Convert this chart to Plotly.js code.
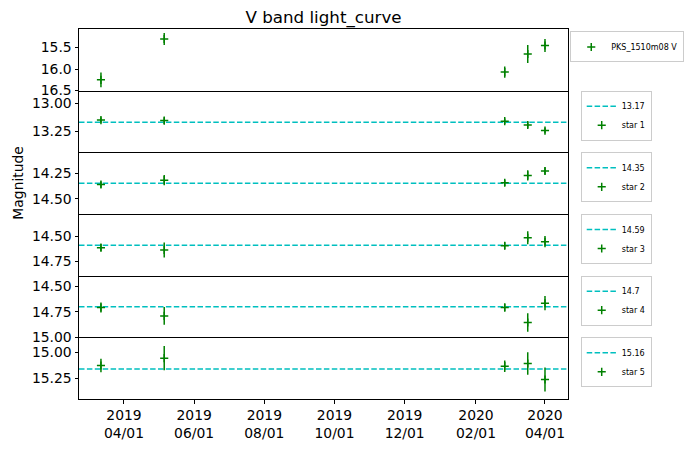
<!DOCTYPE html>
<html>
<head>
<meta charset="utf-8">
<script src="https://cdn.plot.ly/plotly-3.0.1.min.js"></script>
<style>html,body{margin:0;padding:0;background:#fff;}#chart{width:687px;height:449px;}</style>
</head>
<body>
<div id="chart"></div>
<script>
// ---- data ----
const dates = ['2019-03-12', '2019-05-06', '2020-02-26', '2020-03-17', '2020-04-01'];

const pksName = 'PKS_1510m08 V';
const pksMag = [16.25, 15.30, 16.07, 15.65, 15.45];
const pksErr = [0.17, 0.14, 0.13, 0.21, 0.15];

const starNames = ['star 1', 'star 2', 'star 3', 'star 4', 'star 5'];
const refMags = [13.17, 14.35, 14.59, 14.7, 15.16];

const star1Mag = [13.150, 13.155, 13.160, 13.195, 13.245];
const star1Err = [0.025, 0.030, 0.025, 0.030, 0.025];
const star2Mag = [14.362, 14.319, 14.345, 14.273, 14.230];
const star2Err = [0.030, 0.050, 0.030, 0.050, 0.035];
const star3Mag = [14.615, 14.638, 14.596, 14.517, 14.556];
const star3Err = [0.035, 0.075, 0.035, 0.065, 0.055];
const star4Mag = [14.707, 14.790, 14.707, 14.855, 14.665];
const star4Err = [0.050, 0.087, 0.040, 0.090, 0.070];
const star5Mag = [15.125, 15.055, 15.132, 15.106, 15.260];
const star5Err = [0.064, 0.117, 0.055, 0.107, 0.115];

const starMags = [star1Mag, star2Mag, star3Mag, star4Mag, star5Mag];
const starErrs = [star1Err, star2Err, star3Err, star4Err, star5Err];

// ---- styling ----
const FONT = 'DejaVu Sans, Liberation Sans, sans-serif';
const GREEN = '#008000';
const CYAN = '#00bfbf';
const nPanels = 6;
const yRanges = [
  [16.502, 15.067],
  [13.442, 12.884],
  [14.648, 14.049],
  [14.891, 14.283],
  [15.001, 14.394],
  [15.446, 14.856]
];
const xRange = ['2019-02-20 22:00', '2020-04-21'];

function domainOf(i) { return [1 - (i + 1) / nPanels, 1 - i / nPanels]; }
function sfx(i) { return i === 0 ? '' : String(i + 1); }

function errTrace(i, name, mags, errs) {
  return {
    type: 'scatter', mode: 'markers', name: name,
    x: dates, y: mags,
    xaxis: 'x' + sfx(i), yaxis: 'y' + sfx(i),
    legend: 'legend' + sfx(i), legendrank: 2,
    marker: { symbol: 'cross-thin', size: 5.8, color: GREEN, line: { color: GREEN, width: 1.5 } },
    error_y: { type: 'data', array: errs, visible: true, color: GREEN, thickness: 1.5, width: 0 },
    hoverinfo: 'x+y'
  };
}

const traces = [errTrace(0, pksName, pksMag, pksErr)];
for (let s = 0; s < starNames.length; s++) {
  traces.push(errTrace(s + 1, starNames[s], starMags[s], starErrs[s]));
}

const shapes = refMags.map((m, s) => ({
  type: 'line', layer: 'below',
  xref: 'x' + sfx(s + 1) + ' domain', x0: 0, x1: 1,
  yref: 'y' + sfx(s + 1), y0: m, y1: m,
  line: { color: CYAN, width: 1.5, dash: '5.5px,2.4px' },
  showlegend: true, name: String(m), legend: 'legend' + sfx(s + 1), legendrank: 1
}));

const layout = {
  width: 687, height: 449,
  margin: { l: 79, r: 119, t: 29, b: 50, pad: 0, autoexpand: false },
  paper_bgcolor: '#ffffff', plot_bgcolor: '#ffffff',
  font: { family: FONT, size: 13.9, color: '#000000' },
  title: {
    text: 'V band light_curve', font: { family: FONT, size: 16.7, color: '#000' },
    x: 0.5, xref: 'paper', xanchor: 'center',
    y: 1, yref: 'paper', yanchor: 'bottom', pad: { b: 6 }
  },
  shapes: shapes,
  annotations: [{
    text: 'Magnitude', textangle: -90, showarrow: false,
    xref: 'paper', x: -0.1237, xanchor: 'center',
    yref: 'y3 domain', y: 0.5, yanchor: 'middle',
    font: { family: FONT, size: 13.9, color: '#000' }
  }],
  showlegend: true
};

const legendTops = [0.96, 1, 1, 1, 1, 1];
for (let i = 0; i < nPanels; i++) {
  const s = sfx(i);
  const isBottom = i === nPanels - 1;
  layout['xaxis' + s] = {
    domain: [0, 1], anchor: 'y' + s, type: 'date', range: xRange,
    matches: i === 0 ? undefined : 'x',
    showline: true, mirror: i === 0, linecolor: '#000', linewidth: 1,
    showgrid: false, zeroline: false,
    showticklabels: isBottom, ticks: isBottom ? 'outside' : '', ticklen: 3.5, tickwidth: 1, tickcolor: '#000',
    tickmode: 'linear', tick0: '2019-04-01', dtick: 'M2', tickformat: '%Y<br>%m/%d',
    tickfont: { family: FONT, size: 13.9, color: '#000' }
  };
  const d = domainOf(i);
  layout['yaxis' + s] = {
    domain: d, anchor: 'x' + s, range: yRanges[i], autorange: false,
    showline: true, mirror: true, linecolor: '#000', linewidth: 1,
    showgrid: false, zeroline: false,
    ticks: 'outside', ticklen: 3.5, tickwidth: 1, tickcolor: '#000',
    tickmode: 'linear', tick0: 0, dtick: i === 0 ? 0.5 : 0.25,
    tickformat: i === 0 ? '.1f' : '.2f',
    tickfont: { family: FONT, size: 13.9, color: '#000' }
  };
  const top = d[0] + (d[1] - d[0]) * legendTops[i];
  const leg = {
    y: top, yref: 'paper', yanchor: 'top',
    font: { family: FONT, size: 8, color: '#000' },
    bgcolor: 'rgba(255,255,255,0.8)', bordercolor: '#cccccc', borderwidth: 1,
    itemwidth: 30, tracegroupgap: 0, traceorder: 'normal'
  };
  if (i === 0) { leg.x = 0.996; leg.xref = 'container'; leg.xanchor = 'right'; }
  else { leg.x = 1.026; leg.xref = 'paper'; leg.xanchor = 'left'; }
  layout['legend' + s] = leg;
}

Plotly.newPlot('chart', traces, layout, { displayModeBar: false, staticPlot: true });
</script>
</body>
</html>
